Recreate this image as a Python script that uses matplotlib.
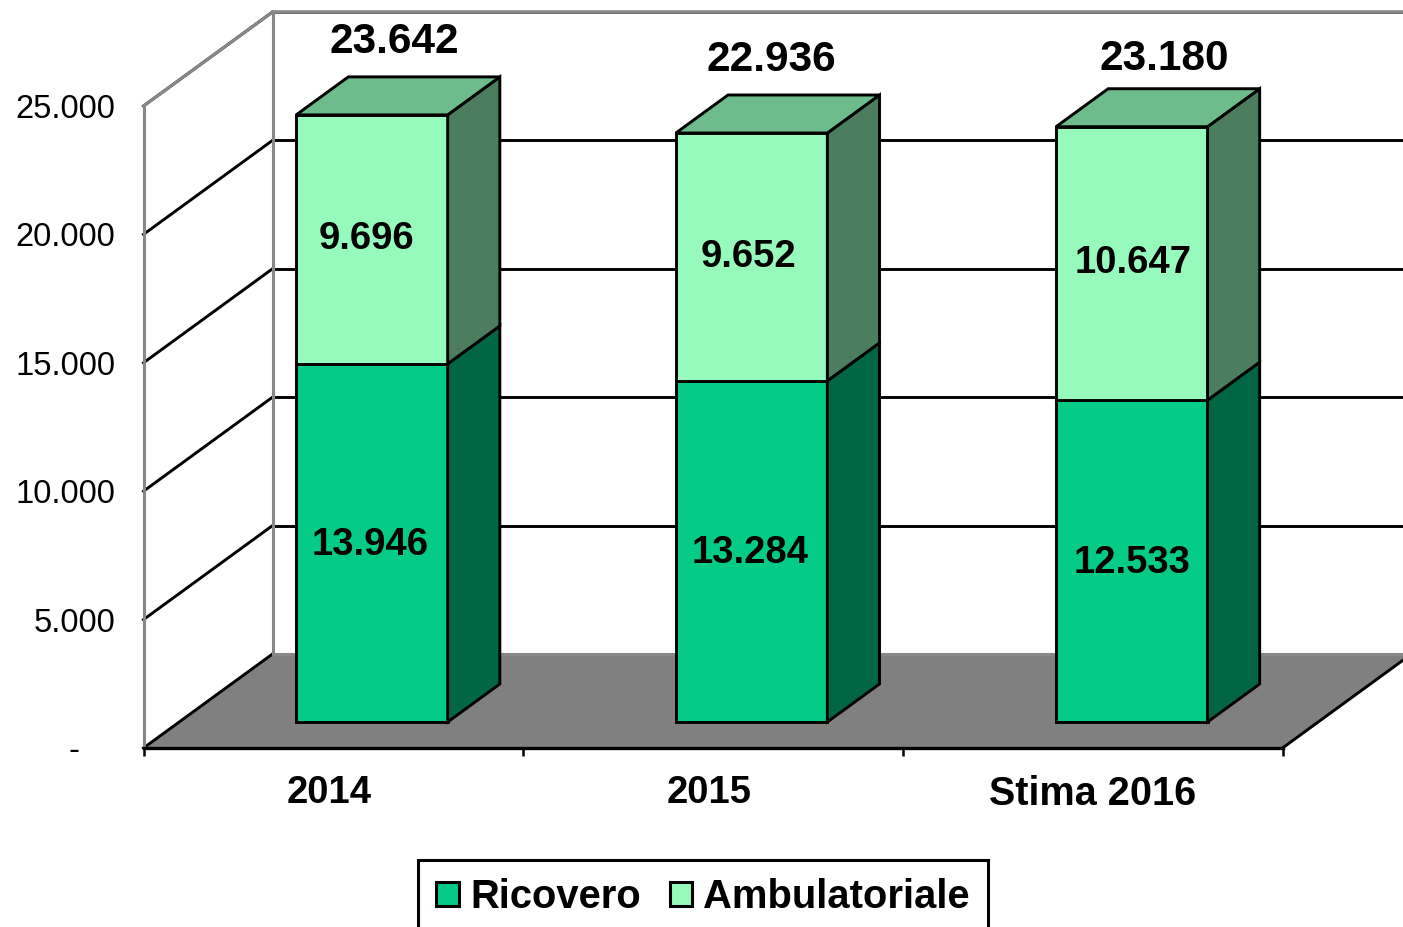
import matplotlib
matplotlib.use('Agg')
import matplotlib.pyplot as plt
from matplotlib.patches import Polygon, Patch
from matplotlib.ticker import FixedLocator, FixedFormatter

plt.rcParams['font.family'] = ['Liberation Sans', 'DejaVu Sans']

categories = ['2014', '2015', 'Stima 2016']
ricovero = [13946, 13284, 12533]
ambulatoriale = [9696, 9652, 10647]
totali = [23642, 22936, 23180]
y_ticks = [0, 5000, 10000, 15000, 20000, 25000]
y_tick_labels = ['-', '5.000', '10.000', '15.000', '20.000', '25.000']

COL_RIC = '#04CC88'
COL_RIC_SIDE = '#006644'
COL_AMB = '#96FABC'
COL_AMB_SIDE = '#4C7D5E'
COL_TOP = '#6EBB8C'
COL_WALL = '#888888'
COL_FLOOR = '#808080'

W, H = 1403, 927
PX_X = 1139 / 3      # pixel per categoria
PX_Y = 642 / 25000   # pixel per unita'

# profondita' della finta prospettiva, in unita' dei dati
depth_x = 129 / PX_X
depth_y = 94 / PX_Y
bar_off = 26 / 94    # distanza della barra dal piano frontale
bar_depth = 38 / 94  # spessore della barra
bar_left = 117 / PX_X
bar_width = 151.5 / PX_X
LW = 2.1


def it(n):
    return f'{n:,}'.replace(',', '.')


fig = plt.figure(figsize=(W / 100, H / 100), dpi=100)
ax = fig.add_axes([143.5 / W, 1 - 748 / H, 1139 / W, 642 / H])
ax.set_xlim(0, 3)
ax.set_ylim(0, 25000)
ax.patch.set_visible(False)
for s in ['top', 'right', 'left']:
    ax.spines[s].set_visible(False)
ax.spines['bottom'].set_linewidth(2.4)
ax.spines['bottom'].set_zorder(6)

# pavimento
ax.add_patch(Polygon([(0, 0), (3, 0), (3 + depth_x, depth_y), (depth_x, depth_y)],
                     closed=True, fc=COL_FLOOR, ec='none', clip_on=False, zorder=1))
ax.plot([3, 3 + depth_x], [0, depth_y], color='black', lw=LW, clip_on=False, zorder=2)

# griglia sul fondo e sulla parete sinistra
for v in y_ticks[1:]:
    ax.plot([depth_x, 3 + depth_x], [v + depth_y] * 2, color='black', lw=LW, clip_on=False, zorder=2)
    ax.plot([0, depth_x], [v, v + depth_y], color='black', lw=LW, clip_on=False, zorder=2)
ax.plot([0, depth_x], [0, depth_y], color='black', lw=LW, clip_on=False, zorder=3)

# pareti
ax.plot([0, 0], [0, 25000], color=COL_WALL, lw=2.2, clip_on=False, zorder=3)
ax.plot([depth_x, depth_x], [depth_y, 25000 + depth_y], color=COL_WALL, lw=2.2, clip_on=False, zorder=3)
ax.plot([0, depth_x], [25000, 25000 + depth_y], color=COL_WALL, lw=2.2, clip_on=False, zorder=3)
ax.plot([depth_x, 3 + depth_x], [25000 + depth_y] * 2, color=COL_WALL, lw=2.6, clip_on=False, zorder=3)
ax.plot([depth_x, 3 + depth_x], [depth_y] * 2, color=COL_WALL, lw=2.2, clip_on=False, zorder=2)

# barre
bar_shift = [0, 0, 0.5]
xs = [i + bar_left + bar_off * depth_x + bar_shift[i] / PX_X for i in range(3)]
base = bar_off * depth_y
ddx = bar_depth * depth_x
ddy = bar_depth * depth_y
edge = dict(edgecolor='black', linewidth=LW, clip_on=False, zorder=5, joinstyle='miter')
for i, x0 in enumerate(xs):
    r = ricovero[i]
    a = ambulatoriale[i]
    x1 = x0 + bar_width
    ax.bar(x0, r, bar_width, bottom=base, align='edge', color=COL_RIC, **edge)
    ax.bar(x0, a, bar_width, bottom=base + r, align='edge', color=COL_AMB, **edge)
    ax.add_patch(Polygon([(x1, base), (x1 + ddx, base + ddy), (x1 + ddx, base + r + ddy), (x1, base + r)],
                         fc=COL_RIC_SIDE, **edge))
    ax.add_patch(Polygon([(x1, base + r), (x1 + ddx, base + r + ddy), (x1 + ddx, base + r + a + ddy), (x1, base + r + a)],
                         fc=COL_AMB_SIDE, **edge))
    ax.add_patch(Polygon([(x0, base + r + a), (x1, base + r + a), (x1 + ddx, base + r + a + ddy), (x0 + ddx, base + r + a + ddy)],
                         fc=COL_TOP, **edge))

# etichette dei valori
total_shift_x = [22, 20, 32]
total_shift_y = [35, 35, 30]
amb_shift = [-5, -3, 1]
ric_shift = [-2, -1, 0]
for i, x0 in enumerate(xs):
    xc = x0 + bar_width / 2
    r = ricovero[i]
    a = ambulatoriale[i]
    lab = dict(ha='center', va='center', fontsize=27.5, fontweight='bold', color='black', zorder=7)
    ax.text(xc + ric_shift[i] / PX_X, base + r / 2 - 2 / PX_Y, it(r), **lab)
    ax.text(xc + amb_shift[i] / PX_X, base + r + a / 2, it(a), **lab)
    ax.text(xc + total_shift_x[i] / PX_X, base + totali[i] + ddy + total_shift_y[i] / PX_Y, it(totali[i]),
            ha='center', va='center', fontsize=30.5, fontweight='bold', color='black', zorder=7)

# assi
ax.xaxis.set_major_locator(FixedLocator([0, 1, 2, 3]))
ax.xaxis.set_major_formatter(FixedFormatter(['', '', '', '']))
ax.xaxis.set_minor_locator(FixedLocator([0.49, 1.49, 2.50]))
ax.xaxis.set_minor_formatter(FixedFormatter(categories))
ax.tick_params(axis='x', which='major', length=6, width=1.8, direction='out')
ax.tick_params(axis='x', which='minor', length=0, pad=19.5, labelsize=27.5)
for t in ax.xaxis.get_minorticklabels():
    t.set_fontweight('bold')
    if t.get_text().startswith('Stima'):
        t.set_fontsize(28.5)
ax.set_yticks(y_ticks)
ax.set_yticklabels(y_tick_labels)
ax.tick_params(axis='y', length=0, pad=20.5, labelsize=23.5)
ax.yaxis.get_major_ticks()[0].set_pad(46)

# legenda
handles = [Patch(fc=COL_RIC, ec='black', lw=2.2), Patch(fc=COL_AMB, ec='black', lw=2.2)]
leg = fig.legend(handles, ['Ricovero', 'Ambulatoriale'], ncol=2, loc='upper left',
                 bbox_to_anchor=(418 / W, 1 - 860 / H), bbox_transform=fig.transFigure,
                 fancybox=False, framealpha=1, edgecolor='black', borderaxespad=0,
                 prop={'size': 28.8, 'weight': 'bold'}, handlelength=0.56, handleheight=0.56,
                 handletextpad=0.28, columnspacing=0.72, borderpad=0.46)
leg.get_frame().set_linewidth(2.2)

fig.savefig('out.png', dpi=100)
